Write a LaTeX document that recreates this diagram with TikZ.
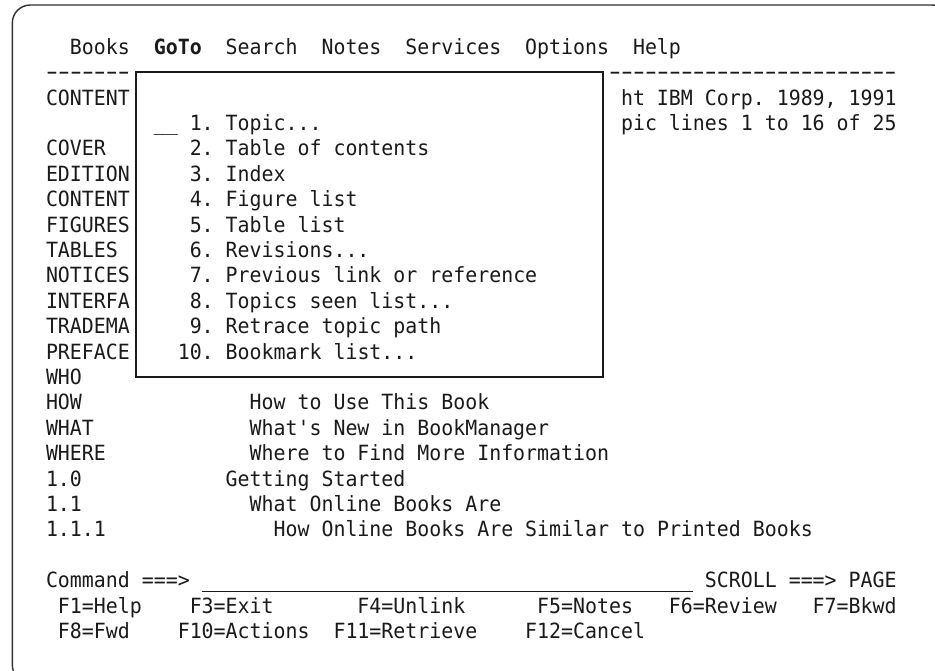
\documentclass[tikz,border=0pt]{standalone}
\usepackage{graphicx}
\usepackage{fontspec}
\setmonofont{DejaVu Sans Mono}[FakeStretch=0.95]
\newcommand\screenfont{\ttfamily\fontsize{20.95}{25}\selectfont}
% character cell grid of the terminal panel
\newcommand\colx[1]{46+11.98*(#1)}
\newcommand\rowb[1]{54.3+25.4*(#1)}
\newcommand\rowc[1]{46.6+25.4*(#1)}
\newcommand\cellat[4]{\node[txt] (#1) at ({\colx{#2}},{\rowb{#3}}) {#4};}
% a hyphen widened to fill most of its character cell
\newsavebox\hyphenbox
\newcommand\dashcell{\makebox[\wd\hyphenbox]{\scalebox{1.7}[1.1]{-}}}
\newcommand\dashrun[1]{\sbox\hyphenbox{0}\foreach\k in {1,...,#1}{\dashcell}}
\begin{document}
\begin{tikzpicture}[x=1pt,y=-1pt,
  txt/.style={inner sep=0pt, outer sep=0pt, anchor=base west, text=ink, font=\screenfont},
  rule/.style={draw=ink, line width=1.4pt},
  frame/.style={draw=ink!90, line width=1.4pt, rounded corners=18pt}]
\definecolor{ink}{HTML}{1A1A1A}
\fill[white] (0,0) rectangle (935,671);
\useasboundingbox (0,0) rectangle (935,671);
\begin{scope}
  \clip (0,0) rectangle (935,671);
  \draw[frame] (12.3,683) -- (12.3,5) -- (950,5) -- (950,683) -- cycle;
\end{scope}

% action bar
\cellat{mBooks}{2}{0}{Books}
\cellat{mGoTo}{9}{0}{\textbf{GoTo}}
\cellat{mSearch}{15}{0}{Search}
\cellat{mNotes}{23}{0}{Notes}
\cellat{mServices}{30}{0}{Services}
\cellat{mOptions}{40}{0}{Options}
\cellat{mHelp}{49}{0}{Help}
\cellat{dashL}{0}{1}{\dashrun{7}}
\cellat{dashR}{47}{1}{\dashrun{24}}

% panel lines partly hidden by the pull-down
\cellat{t2}{0}{2}{CONTENT}
\cellat{t2r}{48}{2}{ht IBM Corp. 1989, 1991}
\cellat{t3r}{48}{3}{pic lines 1 to 16 of 25}
\cellat{t4}{0}{4}{COVER}
\cellat{t5}{0}{5}{EDITION}
\cellat{t6}{0}{6}{CONTENT}
\cellat{t7}{0}{7}{FIGURES}
\cellat{t8}{0}{8}{TABLES}
\cellat{t9}{0}{9}{NOTICES}
\cellat{t10}{0}{10}{INTERFA}
\cellat{t11}{0}{11}{TRADEMA}
\cellat{t12}{0}{12}{PREFACE}
\cellat{t13}{0}{13}{WHO}
\cellat{t14}{0}{14}{HOW}
\cellat{t14r}{17}{14}{How to Use This Book}
\cellat{t15}{0}{15}{WHAT}
\cellat{t15r}{17}{15}{What's New in BookManager}
\cellat{t16}{0}{16}{WHERE}
\cellat{t16r}{17}{16}{Where to Find More Information}
\cellat{t17}{0}{17}{1.0}
\cellat{t17r}{15}{17}{Getting Started}
\cellat{t18}{0}{18}{1.1}
\cellat{t18r}{17}{18}{What Online Books Are}
\cellat{t19}{0}{19}{1.1.1}
\cellat{t19r}{19}{19}{How Online Books Are Similar to Printed Books}

% GoTo pull-down
\draw[rule, fill=white] ({\colx{7.5}},{\rowc{1}}) rectangle ({\colx{46.5}},{\rowc{13}});
\cellat{pEntry}{9}{3}{\_\_}
\cellat{p1}{12}{3}{1. Topic...}
\cellat{p2}{12}{4}{2. Table of contents}
\cellat{p3}{12}{5}{3. Index}
\cellat{p4}{12}{6}{4. Figure list}
\cellat{p5}{12}{7}{5. Table list}
\cellat{p6}{12}{8}{6. Revisions...}
\cellat{p7}{12}{9}{7. Previous link or reference}
\cellat{p8}{12}{10}{8. Topics seen list...}
\cellat{p9}{12}{11}{9. Retrace topic path}
\cellat{p10}{11}{12}{10. Bookmark list...}

% command line and function keys
\cellat{cmd}{0}{21}{Command ===>}
\coordinate (cmdL) at ({\colx{13}},591.5);
\coordinate (cmdR) at ({\colx{54}},591.5);
\draw[ink, line width=1.3pt] (cmdL) -- (cmdR);
\cellat{scroll}{55}{21}{SCROLL ===> PAGE}
\cellat{f1}{1}{22}{F1=Help}
\cellat{f3}{12}{22}{F3=Exit}
\cellat{f4}{26}{22}{F4=Unlink}
\cellat{f5}{41}{22}{F5=Notes}
\cellat{f6}{52}{22}{F6=Review}
\cellat{f7}{64}{22}{F7=Bkwd}
\cellat{f8}{1}{23}{F8=Fwd}
\cellat{f10}{11}{23}{F10=Actions}
\cellat{f11}{24}{23}{F11=Retrieve}
\cellat{f12}{40}{23}{F12=Cancel}
\end{tikzpicture}
\end{document}
